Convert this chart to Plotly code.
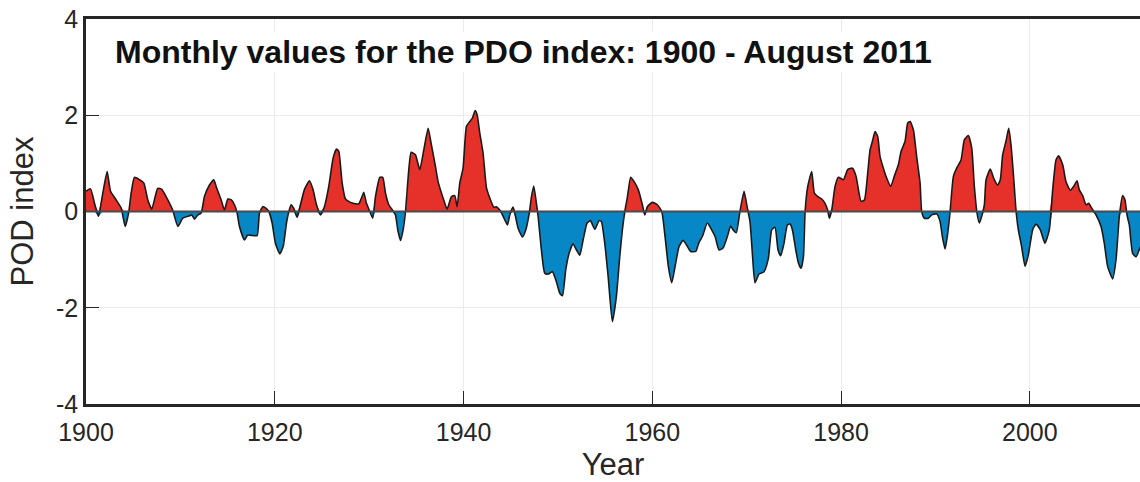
import plotly.graph_objects as go

years = [
    1900.0, 1900.48, 1900.9, 1901.32, 1901.78, 1902.24, 1902.6, 1903.2, 1903.73, 1904.15,
    1904.54, 1904.78, 1905.14, 1905.67, 1906.13, 1906.55, 1906.97, 1907.33, 1907.6, 1908.03,
    1908.67, 1909.2, 1909.73, 1910.26, 1910.97, 1911.2, 1911.5, 1911.85, 1912.2, 1912.55,
    1913.08, 1913.54, 1913.79, 1914.32, 1914.67, 1915.03, 1915.4, 1915.73, 1916.0, 1916.26,
    1916.79, 1917.14, 1917.67, 1918.13, 1918.38, 1918.73, 1919.05, 1919.37, 1919.72, 1920.07,
    1920.53, 1920.89, 1921.24, 1921.49, 1921.73, 1922.0, 1922.37, 1922.72, 1923.15, 1923.68,
    1924.06, 1924.42, 1924.84, 1925.26, 1925.72, 1926.18, 1926.54, 1926.78, 1927.14, 1927.49,
    1928.02, 1928.55, 1928.9, 1929.25, 1929.43, 1929.71, 1930.07, 1930.38, 1930.67, 1931.13,
    1931.44, 1931.73, 1932.08, 1932.5, 1932.79, 1933.03, 1933.32, 1933.6, 1933.85, 1934.2,
    1934.45, 1934.9, 1935.36, 1935.79, 1936.25, 1936.56, 1937.02, 1937.3, 1937.6, 1937.9,
    1938.26, 1938.72, 1939.07, 1939.32, 1939.6, 1939.95, 1940.31, 1940.66, 1940.94, 1941.23,
    1941.44, 1941.72, 1942.07, 1942.43, 1942.78, 1943.2, 1943.49, 1943.84, 1944.2, 1944.65,
    1944.9, 1945.25, 1945.5, 1945.78, 1946.24, 1946.6, 1946.95, 1947.2, 1947.44, 1947.72,
    1947.9, 1948.25, 1948.6, 1948.96, 1949.42, 1949.84, 1950.2, 1950.48, 1950.83, 1951.18,
    1951.6, 1951.96, 1952.31, 1952.67, 1953.09, 1953.44, 1953.9, 1954.36, 1954.6, 1954.96,
    1955.32, 1955.77, 1956.19, 1956.55, 1956.83, 1957.11, 1957.36, 1957.71, 1958.07, 1958.52,
    1958.95, 1959.2, 1959.48, 1960.01, 1960.54, 1961.0, 1961.35, 1961.7, 1962.06, 1962.48,
    1962.83, 1963.26, 1963.61, 1964.07, 1964.6, 1964.95, 1965.3, 1965.83, 1966.29, 1966.65,
    1967.07, 1967.49, 1967.95, 1968.3, 1968.55, 1968.9, 1969.26, 1969.72, 1970.07, 1970.35,
    1970.6, 1970.88, 1971.3, 1971.84, 1972.3, 1972.65, 1973.0, 1973.32, 1973.6, 1973.95,
    1974.31, 1974.6, 1974.84, 1975.2, 1975.48, 1975.76, 1976.01, 1976.19, 1976.47, 1976.89,
    1977.17, 1977.53, 1977.95, 1978.3, 1978.59, 1978.76, 1979.01, 1979.36, 1979.72, 1980.25,
    1980.7, 1981.2, 1981.59, 1981.84, 1982.12, 1982.47, 1982.82, 1983.07, 1983.32, 1983.6,
    1983.88, 1984.13, 1984.48, 1984.84, 1985.26, 1985.65, 1986.07, 1986.36, 1986.78, 1987.06,
    1987.31, 1987.66, 1988.01, 1988.37, 1988.54, 1988.83, 1989.25, 1989.6, 1990.13, 1990.49,
    1990.73, 1991.02, 1991.3, 1991.55, 1991.9, 1992.25, 1992.71, 1993.06, 1993.48, 1993.84,
    1994.12, 1994.4, 1994.65, 1994.9, 1995.18, 1995.36, 1995.81, 1996.17, 1996.59, 1996.87,
    1997.12, 1997.47, 1997.76, 1998.0, 1998.29, 1998.53, 1998.78, 1999.13, 1999.49, 1999.84,
    2000.3, 2000.65, 2001.11, 2001.6, 2002.06, 2002.42, 2002.77, 2003.05, 2003.48, 2003.83,
    2004.29, 2004.64, 2005.0, 2005.24, 2005.6, 2005.95, 2006.23, 2006.55, 2007.01, 2007.54,
    2007.89, 2008.24, 2008.77, 2009.13, 2009.48, 2009.83, 2010.08, 2010.29, 2010.54, 2010.89,
    2011.25, 2011.71,
]

pdo = [
    0.42, 0.47, 0.17, -0.10, 0.38, 0.83, 0.42, 0.24, 0.07, -0.31,
    0.0, 0.38, 0.71, 0.66, 0.59, 0.24, 0.05, 0.31, 0.48, 0.46,
    0.24, 0.02, -0.31, -0.14, -0.09, -0.07, -0.16, -0.07, -0.03, 0.31,
    0.55, 0.66, 0.52, 0.24, 0.03, 0.26, 0.24, 0.14, -0.02, -0.31,
    -0.59, -0.49, -0.50, -0.50, -0.03, 0.10, 0.07, 0.0, -0.24, -0.66,
    -0.88, -0.73, -0.24, 0.0, 0.14, 0.07, -0.12, 0.14, 0.46, 0.64,
    0.45, 0.14, -0.07, 0.10, 0.52, 1.11, 1.30, 1.25, 0.59, 0.26,
    0.19, 0.16, 0.16, 0.31, 0.40, 0.17, 0.0, -0.14, 0.31, 0.71,
    0.71, 0.38, 0.14, 0.02, -0.07, -0.38, -0.60, -0.38, 0.0, 0.87,
    1.23, 1.18, 0.87, 1.28, 1.73, 1.42, 0.94, 0.62, 0.42, 0.24,
    0.05, 0.31, 0.33, 0.10, 0.59, 0.90, 1.77, 1.87, 1.94, 2.10,
    2.01, 1.63, 1.21, 0.49, 0.28, 0.09, 0.10, 0.03, -0.10, -0.28,
    -0.07, 0.09, -0.10, -0.35, -0.53, -0.38, -0.05, 0.31, 0.53, 0.17,
    -0.10, -0.80, -1.28, -1.30, -1.25, -1.46, -1.70, -1.75, -1.21, -0.87,
    -0.67, -0.80, -0.91, -0.59, -0.24, -0.19, -0.37, -0.19, -0.21, -0.66,
    -1.35, -2.29, -1.77, -0.94, -0.38, 0.03, 0.30, 0.71, 0.62, 0.45,
    0.14, -0.07, 0.10, 0.19, 0.14, 0.0, -0.52, -1.14, -1.48, -1.07,
    -0.73, -0.60, -0.69, -0.83, -0.83, -0.64, -0.52, -0.24, -0.38, -0.52,
    -0.80, -0.76, -0.52, -0.30, -0.38, -0.44, -0.03, 0.42, 0.07, -0.21,
    -0.87, -1.48, -1.30, -1.25, -0.97, -0.38, -0.33, -0.80, -0.92, -0.66,
    -0.28, -0.26, -0.38, -0.80, -1.07, -1.18, -0.94, 0.0, 0.52, 0.83,
    0.38, 0.31, 0.26, 0.17, 0.02, -0.14, 0.03, 0.52, 0.71, 0.66,
    0.87, 0.90, 0.73, 0.45, 0.21, 0.24, 0.80, 1.28, 1.46, 1.66,
    1.56, 1.14, 0.90, 0.69, 0.52, 0.74, 0.97, 1.25, 1.46, 1.84,
    1.87, 1.70, 1.14, 0.59, 0.0, -0.14, -0.14, -0.07, -0.05, -0.21,
    -0.52, -0.78, -0.45, 0.0, 0.73, 0.90, 1.07, 1.49, 1.58, 1.32,
    0.52, -0.03, -0.24, -0.10, 0.14, 0.66, 0.88, 0.69, 0.55, 0.66,
    1.18, 1.46, 1.73, 1.39, 0.69, 0.03, -0.38, -0.73, -1.14, -0.90,
    -0.38, -0.26, -0.38, -0.66, -0.38, 0.45, 1.07, 1.16, 0.97, 0.62,
    0.44, 0.52, 0.64, 0.45, 0.33, 0.14, 0.17, 0.07, -0.07, -0.31,
    -0.66, -1.14, -1.40, -1.00, -0.10, 0.33, 0.24, -0.07, -0.28, -0.87,
    -0.94, -0.73,
]

x_ticks = [1900, 1920, 1940, 1960, 1980, 2000]
y_ticks = [-4, -2, 0, 2, 4]
title_text = "Monthly values for the PDO index: 1900 - August 2011"

pos = [max(v, 0.0) for v in pdo]
neg = [min(v, 0.0) for v in pdo]

RED = "#e5312a"
BLUE = "#0787c5"
FONT = "Liberation Sans, Arial, sans-serif"
AX = "#262626"
SM = 0.5

fig = go.Figure()
fig.add_trace(go.Scatter(x=years, y=pos, mode="lines",
                         line=dict(width=0, color=RED, shape="spline", smoothing=SM),
                         fill="tozeroy", fillcolor=RED, hoverinfo="skip", showlegend=False))
fig.add_trace(go.Scatter(x=years, y=neg, mode="lines",
                         line=dict(width=0, color=BLUE, shape="spline", smoothing=SM),
                         fill="tozeroy", fillcolor=BLUE, hoverinfo="skip", showlegend=False))
fig.add_trace(go.Scatter(x=years, y=pdo, mode="lines",
                         line=dict(width=1.6, color="#1a1a1a", shape="spline", smoothing=SM),
                         showlegend=False))

fig.add_shape(type="line", xref="paper", x0=0, x1=1, yref="y", y0=0, y1=0,
              line=dict(color="#4a4a4a", width=2), layer="above")

fig.add_annotation(text="<b>" + title_text + "</b>", xref="paper", yref="paper",
                   x=0.026, y=0.914, xanchor="left", yanchor="middle", showarrow=False,
                   font=dict(family=FONT, size=32, color="#111111"), bgcolor="white")

fig.update_layout(
    width=1140, height=482,
    margin=dict(l=86, r=0, t=19, b=78),
    paper_bgcolor="white", plot_bgcolor="white",
    font=dict(family=FONT, color=AX),
    xaxis=dict(range=[1900, 2011.67], tickvals=x_ticks, ticktext=[str(t) for t in x_ticks],
               ticks="inside", ticklen=13, tickwidth=1.2, tickcolor=AX,
               showline=True, linecolor=AX, linewidth=2.5, mirror=True,
               showgrid=True, gridcolor="#ebebeb", gridwidth=1, zeroline=False,
               tickfont=dict(size=25, color=AX), ticklabelstandoff=4,
               title=dict(text="Year", font=dict(size=31, color=AX), standoff=14)),
    yaxis=dict(range=[-4, 4], tickvals=y_ticks, ticktext=[str(t) for t in y_ticks],
               ticks="inside", ticklen=13, tickwidth=1.2, tickcolor=AX,
               showline=True, linecolor=AX, linewidth=2.5, mirror=False,
               showgrid=True, gridcolor="#ebebeb", gridwidth=1, zeroline=False,
               tickfont=dict(size=25, color=AX),
               title=dict(text="POD index", font=dict(size=31, color=AX), standoff=14)),
)

fig.write_html("out.html")
